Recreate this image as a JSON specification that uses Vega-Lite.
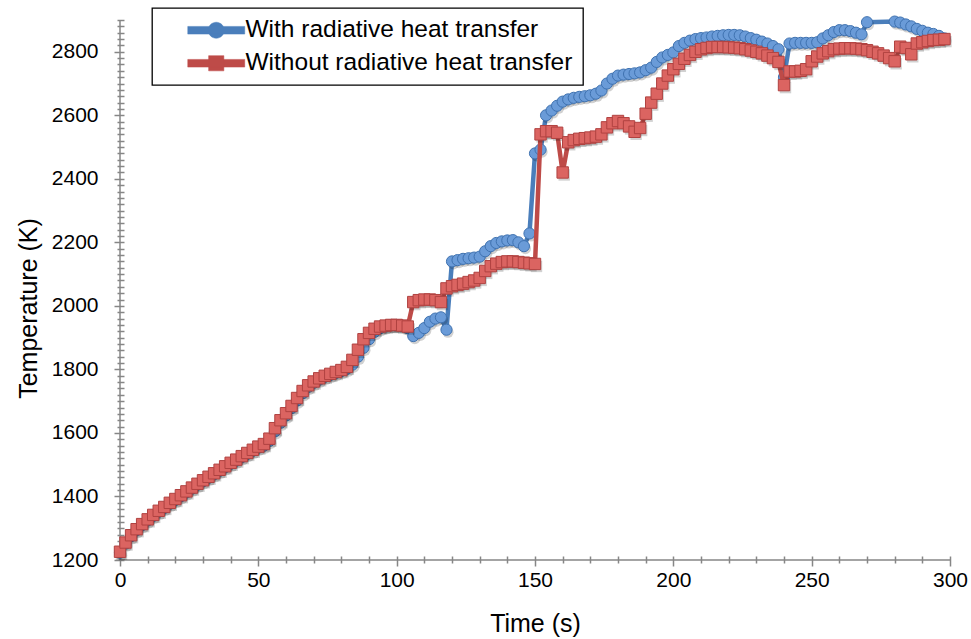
{
  "$schema": "https://vega.github.io/schema/vega-lite/v6.json",
  "width": 830,
  "height": 540,
  "autosize": {"type": "none"},
  "padding": {"left": 120, "top": 20, "right": 21, "bottom": 79},
  "background": "white",
  "config": {
    "view": {"stroke": null},
    "font": "Liberation Sans",
    "axis": {"labelFont": "Liberation Sans", "titleFont": "Liberation Sans", "labelColor": "#000000", "titleColor": "#000000", "titleFontWeight": "normal", "labelFontSize": 21, "titleFontSize": 25, "grid": false, "domain": false, "tickColor": "#868686", "tickWidth": 1.5, "labelOverlap": false}
  },
  "datasets": {
    "with": [
      {"t":0,"T":1223},{"t":2,"T":1252},{"t":4,"T":1275},{"t":6,"T":1294},{"t":8,"T":1310},{"t":10,"T":1325},{"t":12,"T":1339},{"t":14,"T":1352},{"t":16,"T":1364},{"t":18,"T":1377},{"t":20,"T":1389},{"t":22,"T":1401},{"t":24,"T":1413},{"t":26,"T":1425},{"t":28,"T":1437},{"t":30,"T":1448},{"t":32,"T":1459},{"t":34,"T":1470},{"t":36,"T":1481},{"t":38,"T":1492},{"t":40,"T":1503},{"t":42,"T":1513},{"t":44,"T":1524},{"t":46,"T":1534},{"t":48,"T":1544},{"t":50,"T":1554},{"t":52,"T":1560},{"t":54,"T":1575},{"t":56,"T":1605},{"t":58,"T":1632},{"t":60,"T":1655},{"t":62,"T":1678},{"t":64,"T":1702},{"t":66,"T":1725},{"t":68,"T":1745},{"t":70,"T":1758},{"t":72,"T":1768},{"t":74,"T":1777},{"t":76,"T":1783},{"t":78,"T":1789},{"t":80,"T":1795},{"t":82,"T":1802},
      {"t":84,"T":1815},{"t":86,"T":1840},{"t":88,"T":1868},{"t":90,"T":1895},{"t":92,"T":1918},{"t":94,"T":1930},{"t":96,"T":1936},{"t":98,"T":1940},{"t":100,"T":1940},{"t":102,"T":1938},{"t":104,"T":1930},{"t":106,"T":1905},{"t":108,"T":1915},{"t":110,"T":1930},{"t":112,"T":1950},{"t":114,"T":1960},{"t":116,"T":1964},{"t":118,"T":1925},{"t":120,"T":2140},{"t":122,"T":2144},{"t":124,"T":2148},{"t":126,"T":2150},{"t":128,"T":2152},{"t":130,"T":2155},{"t":132,"T":2172},{"t":134,"T":2188},{"t":136,"T":2198},{"t":138,"T":2203},{"t":140,"T":2206},{"t":142,"T":2207},{"t":144,"T":2200},{"t":146,"T":2188},{"t":148,"T":2228},{"t":150,"T":2480},{"t":152,"T":2492},{"t":154,"T":2600},{"t":156,"T":2615},{"t":158,"T":2630},{"t":160,"T":2643},{"t":162,"T":2650},{"t":164,"T":2655},{"t":166,"T":2658},{"t":168,"T":2660},{"t":170,"T":2663},{"t":172,"T":2668},{"t":174,"T":2678},{"t":176,"T":2700},{"t":178,"T":2715},{"t":180,"T":2725},{"t":182,"T":2728},{"t":184,"T":2730},{"t":186,"T":2732},{"t":188,"T":2735},{"t":190,"T":2742},{"t":192,"T":2750},{"t":194,"T":2768},{"t":196,"T":2782},{"t":198,"T":2790},{"t":200,"T":2798},{"t":202,"T":2818},{"t":204,"T":2828},{"t":206,"T":2835},{"t":208,"T":2840},{"t":210,"T":2843},{"t":212,"T":2845},{"t":214,"T":2848},{"t":216,"T":2850},{"t":218,"T":2852},{"t":220,"T":2853},{"t":222,"T":2853},{"t":224,"T":2852},{"t":226,"T":2848},{"t":228,"T":2843},{"t":230,"T":2838},{"t":232,"T":2832},{"t":234,"T":2826},{"t":236,"T":2818},{"t":238,"T":2808},{"t":240,"T":2720},{"t":242,"T":2826},{"t":244,"T":2828},{"t":246,"T":2828},{"t":248,"T":2828},{"t":250,"T":2828},{"t":252,"T":2830},{"t":254,"T":2842},{"t":256,"T":2852},{"t":258,"T":2862},{"t":260,"T":2868},{"t":262,"T":2868},{"t":264,"T":2865},{"t":266,"T":2860},{"t":268,"T":2855},{"t":270,"T":2893},{"t":280,"T":2895},{"t":282,"T":2892},{"t":284,"T":2886},{"t":286,"T":2880},{"t":288,"T":2872},{"t":290,"T":2866},{"t":292,"T":2860},{"t":294,"T":2856},{"t":296,"T":2850},{"t":298,"T":2842}
    ],
    "without": [
      {"t":0,"T":1226},{"t":2,"T":1255},{"t":4,"T":1278},{"t":6,"T":1297},{"t":8,"T":1313},{"t":10,"T":1328},{"t":12,"T":1342},{"t":14,"T":1355},{"t":16,"T":1367},{"t":18,"T":1380},{"t":20,"T":1392},{"t":22,"T":1404},{"t":24,"T":1416},{"t":26,"T":1428},{"t":28,"T":1440},{"t":30,"T":1451},{"t":32,"T":1462},{"t":34,"T":1473},{"t":36,"T":1484},{"t":38,"T":1495},{"t":40,"T":1506},{"t":42,"T":1516},{"t":44,"T":1527},{"t":46,"T":1537},{"t":48,"T":1547},{"t":50,"T":1557},{"t":52,"T":1565},{"t":54,"T":1582},{"t":56,"T":1615},{"t":58,"T":1640},{"t":60,"T":1662},{"t":62,"T":1685},{"t":64,"T":1710},{"t":66,"T":1732},{"t":68,"T":1750},{"t":70,"T":1762},{"t":72,"T":1772},{"t":74,"T":1780},{"t":76,"T":1786},{"t":78,"T":1792},{"t":80,"T":1798},{"t":82,"T":1808},{"t":84,"T":1830},{"t":86,"T":1862},{"t":88,"T":1895},{"t":90,"T":1915},{"t":92,"T":1928},{"t":94,"T":1935},{"t":96,"T":1938},{"t":98,"T":1940},{"t":100,"T":1940},{"t":102,"T":1938},{"t":104,"T":1935},{"t":106,"T":2012},{"t":108,"T":2018},{"t":110,"T":2020},{"t":112,"T":2020},{"t":114,"T":2018},{"t":116,"T":2012},{"t":118,"T":2055},{"t":120,"T":2062},{"t":122,"T":2066},{"t":124,"T":2070},{"t":126,"T":2075},{"t":128,"T":2080},{"t":130,"T":2088},{"t":132,"T":2110},{"t":134,"T":2125},{"t":136,"T":2133},{"t":138,"T":2138},{"t":140,"T":2140},{"t":142,"T":2140},{"t":144,"T":2138},{"t":146,"T":2136},{"t":148,"T":2134},{"t":150,"T":2132},{"t":152,"T":2540},{"t":154,"T":2550},{"t":156,"T":2550},{"t":158,"T":2545},{"t":160,"T":2420},{"t":162,"T":2515},{"t":164,"T":2522},{"t":166,"T":2526},{"t":168,"T":2528},{"t":170,"T":2530},{"t":172,"T":2533},{"t":174,"T":2540},{"t":176,"T":2562},{"t":178,"T":2575},{"t":180,"T":2582},{"t":182,"T":2575},{"t":184,"T":2565},{"t":186,"T":2548},{"t":188,"T":2560},{"t":190,"T":2605},{"t":192,"T":2640},{"t":194,"T":2668},{"t":196,"T":2700},{"t":198,"T":2725},{"t":200,"T":2745},{"t":202,"T":2762},{"t":204,"T":2778},{"t":206,"T":2790},{"t":208,"T":2800},{"t":210,"T":2808},{"t":212,"T":2812},{"t":214,"T":2815},{"t":216,"T":2815},{"t":218,"T":2815},{"t":220,"T":2814},{"t":222,"T":2813},{"t":224,"T":2811},{"t":226,"T":2808},{"t":228,"T":2804},{"t":230,"T":2800},{"t":232,"T":2795},{"t":234,"T":2788},{"t":236,"T":2780},{"t":238,"T":2768},{"t":240,"T":2695},{"t":242,"T":2738},{"t":244,"T":2738},{"t":246,"T":2740},{"t":248,"T":2745},{"t":250,"T":2770},{"t":252,"T":2785},{"t":254,"T":2795},{"t":256,"T":2802},{"t":258,"T":2808},{"t":260,"T":2810},{"t":262,"T":2811},{"t":264,"T":2811},{"t":266,"T":2810},{"t":268,"T":2808},{"t":270,"T":2805},{"t":272,"T":2800},{"t":274,"T":2795},{"t":276,"T":2788},{"t":278,"T":2780},{"t":280,"T":2770},{"t":282,"T":2816},{"t":284,"T":2812},{"t":286,"T":2792},{"t":288,"T":2826},{"t":290,"T":2830},{"t":292,"T":2834},{"t":294,"T":2837},{"t":296,"T":2838},{"t":298,"T":2840}
    ]
  },
  "layer": [
    {
      "data": {"values": [{"a": 1}]},
      "mark": {"type": "rule", "color": "#868686", "strokeWidth": 1.5},
      "encoding": {"y": {"datum": 1200, "type": "quantitative", "scale": {"domain": [1200, 2900], "nice": false, "zero": false}}}
    },
    {
      "data": {"values": [{"a": 1}]},
      "mark": {"type": "rule", "color": "#868686", "strokeWidth": 1.5},
      "encoding": {"x": {"datum": 0, "type": "quantitative", "scale": {"domain": [0, 300], "nice": false, "zero": false}}}
    },
    {
      "data": {"name": "with"},
      "mark": {"type": "line", "strokeWidth": 4.5, "strokeCap": "round", "strokeJoin": "round"},
      "encoding": {
        "x": {"field": "t", "type": "quantitative", "scale": {"domain": [0, 300], "nice": false, "zero": false},
          "axis": {"title": "Time (s)", "values": [0,10,20,30,40,50,60,70,80,90,100,110,120,130,140,150,160,170,180,190,200,210,220,230,240,250,260,270,280,290,300],
            "tickCount": 200,
            "labelExpr": "datum.value % 50 === 0 ? datum.label : ''", "offset": -4,
            "tickSize": {"condition": {"test": "datum.value % 50 === 0", "value": 10}, "value": 7},
            "labelPadding": 3, "titlePadding": 21, "labelFlush": false, "labelOverlap": false}},
        "y": {"field": "T", "type": "quantitative", "scale": {"domain": [1200, 2900], "nice": false, "zero": false},
          "axis": {"title": "Temperature (K)", "values": [1200,1220,1240,1260,1280,1300,1320,1340,1360,1380,1400,1420,1440,1460,1480,1500,1520,1540,1560,1580,1600,1620,1640,1660,1680,1700,1720,1740,1760,1780,1800,1820,1840,1860,1880,1900,1920,1940,1960,1980,2000,2020,2040,2060,2080,2100,2120,2140,2160,2180,2200,2220,2240,2260,2280,2300,2320,2340,2360,2380,2400,2420,2440,2460,2480,2500,2520,2540,2560,2580,2600,2620,2640,2660,2680,2700,2720,2740,2760,2780,2800,2820,2840,2860,2880,2900],
            "tickCount": 200,
            "labelExpr": "datum.value % 200 === 0 && datum.value < 2900 ? datum.label : ''", "offset": -4, "format": "d",
            "tickSize": {"condition": {"test": "datum.value % 200 === 0", "value": 10}, "value": 7},
            "labelPadding": 16, "titlePadding": 10, "titleY": 288, "labelFlush": false, "labelOverlap": false}},
        "color": {"datum": "With radiative heat transfer",
          "scale": {"domain": ["With radiative heat transfer", "Without radiative heat transfer"], "range": ["#4A7EBB", "#BE4B48"]},
          "legend": {"title": null, "orient": "none", "legendX": 32, "legendY": -12, "direction": "vertical",
            "padding": 10, "strokeColor": "#000000", "fillColor": "#ffffff",
            "labelFont": "Liberation Sans", "labelFontSize": 24.5, "labelColor": "#000000", "labelLimit": 500,
            "symbolOffset": 42, "labelOffset": 17, "symbolSize": 256, "rowPadding": 8,
            "encode": {
              "legend": {"update": {"strokeWidth": {"value": 1.3}}},
              "symbols": {"update": {
              "shape": {"signal": "datum.value === 'With radiative heat transfer' ? 'M-3.56,-0.48H3.56V0.48H-3.56Z M-1,0A1,1,0,1,1,1,0A1,1,0,1,1,-1,0Z' : 'M-3.56,-0.48H3.56V0.48H-3.56Z M-0.95,-0.95H0.95V0.95H-0.95Z'"},
              "fill": {"signal": "datum.value === 'With radiative heat transfer' ? '#4A7EBB' : '#BE4B48'"},
              "stroke": {"signal": "datum.value === 'With radiative heat transfer' ? '#4A7EBB' : '#BE4B48'"},
              "strokeWidth": {"value": 0.5},
              "size": {"value": 256},
              "opacity": {"value": 1},
              "fillOpacity": {"value": 1}
            }}}}}
      }
    },
    {
      "data": {"name": "with"},
      "mark": {"type": "point", "shape": "circle", "filled": true, "size": 125, "fill": "#000000", "opacity": 0.18, "xOffset": 1.5, "yOffset": 2.5},
      "encoding": {
        "x": {"field": "t", "type": "quantitative"},
        "y": {"field": "T", "type": "quantitative"}
      }
    },
    {
      "data": {"name": "with"},
      "mark": {"type": "point", "shape": "circle", "filled": true, "size": 125, "fill": "#6A9BD8", "stroke": "#3F72B0", "strokeWidth": 1, "opacity": 1},
      "encoding": {
        "x": {"field": "t", "type": "quantitative"},
        "y": {"field": "T", "type": "quantitative"}
      }
    },
    {
      "data": {"name": "without"},
      "mark": {"type": "line", "strokeWidth": 4.5, "strokeCap": "round", "strokeJoin": "round"},
      "encoding": {
        "x": {"field": "t", "type": "quantitative"},
        "y": {"field": "T", "type": "quantitative"},
        "color": {"datum": "Without radiative heat transfer"}
      }
    },
    {
      "data": {"name": "without"},
      "mark": {"type": "point", "shape": "square", "filled": true, "size": 130, "fill": "#000000", "opacity": 0.18, "xOffset": 1.5, "yOffset": 2.5},
      "encoding": {
        "x": {"field": "t", "type": "quantitative"},
        "y": {"field": "T", "type": "quantitative"}
      }
    },
    {
      "data": {"name": "without"},
      "mark": {"type": "point", "shape": "square", "filled": true, "size": 130, "fill": "#DB6461", "stroke": "#B04240", "strokeWidth": 1, "opacity": 1},
      "encoding": {
        "x": {"field": "t", "type": "quantitative"},
        "y": {"field": "T", "type": "quantitative"}
      }
    }
  ]
}
